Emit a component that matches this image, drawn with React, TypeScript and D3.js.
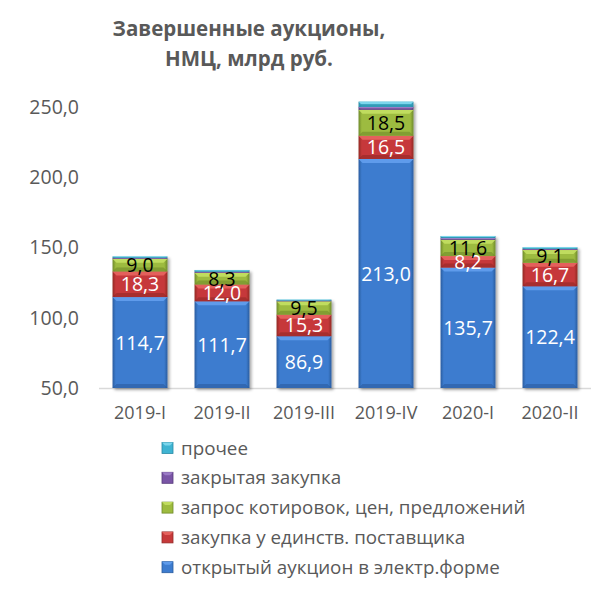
import React from "react";
import * as d3 from "d3";

const categories = ["2019-I", "2019-II", "2019-III", "2019-IV", "2020-I", "2020-II"];
const seriesNames = [
  "открытый аукцион в электр.форме",
  "закупка у единств. поставщика",
  "запрос котировок, цен, предложений",
  "закрытая закупка",
  "прочее",
];
const auction = [114.7, 111.7, 86.9, 213.0, 135.7, 122.4];
const single = [18.3, 12.0, 15.3, 16.5, 8.2, 16.7];
const quotes = [9.0, 8.3, 9.5, 18.5, 11.6, 9.1];
const closed = [0.6, 0.8, 0.5, 2.0, 1.2, 0.8];
const other = [1.0, 1.2, 0.7, 3.8, 1.5, 1.1];
const yTicks = [50, 100, 150, 200, 250];
const titleLines = ["Завершенные аукционы,", "НМЦ, млрд руб."];

const colors = ["#3D7CCF", "#C6393A", "#9DBB3F", "#7A55A6", "#3FB4D2"];
const light = ["#5E9BEB", "#E4615C", "#C0DC5E", "#9B7BC6", "#7CD6EC"];
const dark = ["#2A5C9F", "#932826", "#6F8A2A", "#563A7A", "#2A8AA5"];
const labelColors = ["#FFFFFF", "#FFFFFF", "#000000", null, null];

const FONT = "'Open Sans', Lato, sans-serif";

export default function App() {
  const width = 604;
  const height = 589;
  const keys = ["a", "s", "q", "c", "o"];
  const rows = categories.map((cat, i) => ({
    cat,
    a: auction[i],
    s: single[i],
    q: quotes[i],
    c: closed[i],
    o: other[i],
  }));
  const stacked = d3.stack<any>().keys(keys)(rows);

  const x = d3
    .scaleBand<string>()
    .domain(categories)
    .range([99, 591])
    .paddingInner(0.33)
    .paddingOuter(0.165);
  const y = d3.scaleLinear().domain([50, 250]).range([388, 107]);
  const yv = (v: number) => y(Math.max(50, v));
  const bw = x.bandwidth();
  const fmt = (v: number) => v.toFixed(1).replace(".", ",");

  return (
    <svg width={width} height={height} style={{ display: "block", position: "absolute", left: 0, top: 0 }}>
      <defs>
        {colors.map((c, k) => (
          <linearGradient id={"g" + k} key={k} x1="0" x2="1" y1="0" y2="0">
            <stop offset="0" stopColor={dark[k]} />
            <stop offset="0.06" stopColor={c} />
            <stop offset="0.94" stopColor={c} />
            <stop offset="1" stopColor={dark[k]} />
          </linearGradient>
        ))}
        <filter id="sh" x="-20%" y="-20%" width="140%" height="140%">
          <feGaussianBlur in="SourceAlpha" stdDeviation="1.5" />
          <feOffset dx="1.5" dy="1.5" result="b" />
          <feComponentTransfer>
            <feFuncA type="linear" slope="0.35" />
          </feComponentTransfer>
          <feMerge>
            <feMergeNode />
            <feMergeNode in="SourceGraphic" />
          </feMerge>
        </filter>
      </defs>
      <rect width={width} height={height} fill="#FFFFFF" />

      {titleLines.map((t, i) => (
        <text
          key={i}
          x={249}
          y={36 + i * 30}
          textAnchor="middle"
          fontFamily={FONT}
          fontWeight="bold"
          fontSize={20.5}
          fill="#595959"
        >
          {t}
        </text>
      ))}

      {yTicks.map((t) => (
        <text
          key={t}
          x={79}
          y={y(t)}
          dy="0.35em"
          textAnchor="end"
          fontFamily={FONT}
          fontSize={19.5}
          fill="#595959"
        >
          {fmt(t)}
        </text>
      ))}

      <line x1={99} x2={591} y1={y(50) + 0.5} y2={y(50) + 0.5} stroke="#D9D9D9" strokeWidth={1.5} />

      {categories.map((cat, i) => (
        <g key={cat} filter="url(#sh)">
          {stacked.map((ser, k) => {
            const d = ser[i];
            const y0 = yv(d[0]);
            const y1 = yv(d[1]);
            const h = y0 - y1;
            if (h <= 0) return null;
            const x0 = x(cat)!;
            const bev = Math.min(4, h / 2);
            return (
              <g key={k}>
                <rect x={x0} y={y1} width={bw} height={h} fill={`url(#g${k})`} />
                <polygon
                  points={`${x0},${y1} ${x0 + bw},${y1} ${x0 + bw - bev},${y1 + bev} ${x0 + bev},${y1 + bev}`}
                  fill={light[k]}
                />
                <polygon
                  points={`${x0},${y0} ${x0 + bw},${y0} ${x0 + bw - bev},${y0 - bev} ${x0 + bev},${y0 - bev}`}
                  fill={dark[k]}
                  opacity={0.6}
                />
              </g>
            );
          })}
        </g>
      ))}

      {categories.map((cat, i) =>
        stacked.map((ser, k) => {
          const lc = labelColors[k];
          if (!lc) return null;
          const d = ser[i];
          const cy = (yv(d[0]) + yv(d[1])) / 2;
          return (
            <text
              key={cat + k}
              x={x(cat)! + bw / 2}
              y={cy}
              dy="0.36em"
              textAnchor="middle"
              fontFamily={FONT}
              fontSize={19.5}
              fill={lc}
            >
              {fmt(d[1] - d[0])}
            </text>
          );
        })
      )}

      {categories.map((cat) => (
        <text
          key={cat}
          x={x(cat)! + bw / 2}
          y={413}
          dy="0.35em"
          textAnchor="middle"
          fontFamily={FONT}
          fontSize={18}
          fill="#595959"
        >
          {cat}
        </text>
      ))}

      {seriesNames
        .map((n, k) => ({ n, k }))
        .reverse()
        .map(({ n, k }, j) => {
          const cy = 448 + j * 29.8;
          return (
            <g key={n}>
              <rect x={162} y={cy - 5.5} width={11} height={11} fill={colors[k]} stroke={dark[k]} strokeWidth={0.8} />
              <polygon
                points={`${162},${cy - 5.5} ${173},${cy - 5.5} ${170},${cy - 2.5} ${165},${cy - 2.5}`}
                fill={light[k]}
              />
              <text x={181} y={cy} dy="0.35em" fontFamily={FONT} fontSize={18.8} fill="#595959">
                {n}
              </text>
            </g>
          );
        })}
    </svg>
  );
}
